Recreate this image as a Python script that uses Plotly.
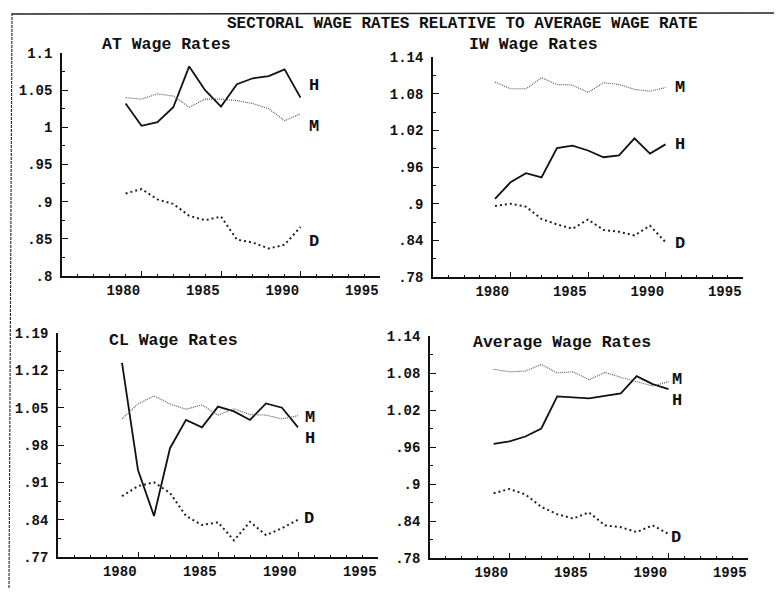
import plotly.graph_objects as go

# page body has an 8px default margin on every side; keep the figure inside the window
OFF = 8
W, H = 782 - 2 * OFF, 596 - 2 * OFF


def fx(px):
    return (px - OFF) / W


def fy(py):
    return 1 - (py - OFF) / H


years = list(range(1979, 1991))

at_h = [1.032, 1.002, 1.007, 1.027, 1.082, 1.050, 1.028, 1.058, 1.066, 1.069, 1.078, 1.040]
at_m = [1.040, 1.038, 1.045, 1.042, 1.027, 1.038, 1.038, 1.036, 1.032, 1.025, 1.009, 1.018]
at_d = [0.911, 0.917, 0.903, 0.897, 0.881, 0.875, 0.880, 0.849, 0.845, 0.837, 0.842, 0.866]

iw_h = [0.908, 0.935, 0.950, 0.943, 0.991, 0.995, 0.987, 0.976, 0.979, 1.007, 0.982, 0.997]
iw_m = [1.099, 1.088, 1.088, 1.106, 1.095, 1.094, 1.082, 1.098, 1.095, 1.087, 1.084, 1.090]
iw_d = [0.896, 0.900, 0.895, 0.875, 0.866, 0.859, 0.874, 0.857, 0.854, 0.848, 0.864, 0.837]

cl_h = [1.134, 0.933, 0.847, 0.974, 1.027, 1.013, 1.052, 1.043, 1.027, 1.058, 1.050, 1.013]
cl_m = [1.029, 1.057, 1.072, 1.057, 1.047, 1.055, 1.036, 1.048, 1.037, 1.036, 1.029, 1.035]
cl_d = [0.884, 0.903, 0.910, 0.890, 0.847, 0.830, 0.835, 0.801, 0.836, 0.811, 0.824, 0.840]

avg_h = [0.965, 0.969, 0.977, 0.990, 1.042, 1.041, 1.039, 1.043, 1.047, 1.075, 1.062, 1.054]
avg_m = [1.086, 1.082, 1.083, 1.094, 1.080, 1.082, 1.069, 1.081, 1.073, 1.066, 1.059, 1.066]
avg_d = [0.885, 0.892, 0.883, 0.863, 0.851, 0.844, 0.854, 0.833, 0.830, 0.822, 0.833, 0.819]

at_ticks = [1.1, 1.05, 1.0, 0.95, 0.9, 0.85, 0.8]
at_ticktext = ["1.1", "1.05", "1", ".95", ".9", ".85", ".8"]
iw_ticks = [1.14, 1.08, 1.02, 0.96, 0.9, 0.84, 0.78]
iw_ticktext = ["1.14", "1.08", "1.02", ".96", ".9", ".84", ".78"]
cl_ticks = [1.19, 1.12, 1.05, 0.98, 0.91, 0.84, 0.77]
cl_ticktext = ["1.19", "1.12", "1.05", ".98", ".91", ".84", ".77"]

x_ticks = [1980, 1985, 1990, 1995]
x_ticktext = ["1980", "1985", "1990", "1995"]

main_title = "SECTORAL WAGE RATES RELATIVE TO AVERAGE WAGE RATE"
panel_titles = ["AT Wage Rates", "IW Wage Rates", "CL Wage Rates", "Average Wage Rates"]
series_names = ["H", "M", "D"]

FONT = "Liberation Mono"

# panel pixel boxes in page pixels: (x0, x1, ytop, ybottom)
boxes = [(62, 380, 53, 276), (433, 743, 57, 277), (58, 378, 333, 557), (430, 748, 336, 558)]
panels = [
    ([at_h, at_m, at_d], at_ticks, at_ticktext, (0.8, 1.1), [(13, 12), (13, -13), (13, -15)], (166, 45)),
    ([iw_h, iw_m, iw_d], iw_ticks, iw_ticktext, (0.78, 1.14), [(14, 0), (14, 0), (14, -1)], (533, 45)),
    ([cl_h, cl_m, cl_d], cl_ticks, cl_ticktext, (0.77, 1.19), [(12, -11), (12, -2), (11, 1)], (173, 340)),
    ([avg_h, avg_m, avg_d], iw_ticks, iw_ticktext, (0.78, 1.14), [(8, -11), (8, 2), (7, -4)], (562, 342)),
]

styles = [
    dict(color="#111111", width=1.8, dash="solid"),
    dict(color="#555555", width=1.1, dash="1px,1px"),
    dict(color="#222222", width=2.0, dash="2px,3px"),
]

fig = go.Figure()
annotations = []
layout_axes = {}

for i, (series, yt, ytt, yr, shifts, tpos) in enumerate(panels):
    n = "" if i == 0 else str(i + 1)
    x0, x1, yt0, yb0 = boxes[i]
    xa = "x" + n
    ya = "y" + n
    for s, name, st, (xs, ys) in zip(series, series_names, styles, shifts):
        fig.add_trace(go.Scatter(x=years, y=s, mode="lines", line=st, xaxis=xa, yaxis=ya,
                                 showlegend=False, hoverinfo="skip"))
        annotations.append(dict(x=years[-1], y=s[-1], xref=xa, yref=ya, text="<b>" + name + "</b>",
                                showarrow=False, xshift=xs, yshift=ys, xanchor="center", yanchor="middle",
                                font=dict(family=FONT, size=17, color="#111")))
    layout_axes["xaxis" + n] = dict(
        domain=[fx(x0), fx(x1)], anchor=ya, range=[1975, 1995], automargin=False,
        tickvals=x_ticks, ticktext=["<b>" + t + "</b>" for t in x_ticktext],
        ticks="inside", ticklen=5, tickwidth=1.3,
        tickcolor="#111", ticklabelposition="outside left",
        minor=dict(ticks="inside", ticklen=2, dtick=1, tick0=1975, tickcolor="#111", tickwidth=1.2),
        showline=True, linecolor="#111", linewidth=1.6, showgrid=False, zeroline=False,
        tickfont=dict(family=FONT, size=14, color="#111"), fixedrange=True,
    )
    layout_axes["yaxis" + n] = dict(
        domain=[fy(yb0), fy(yt0)], anchor=xa, range=list(yr), automargin=False,
        tickvals=yt, ticktext=["<b>" + t + "</b>" for t in ytt],
        ticks="inside", ticklen=6, tickwidth=1.3, tickcolor="#111",
        minor=dict(ticks="inside", ticklen=3, tickvals=[(a + b) / 2 for a, b in zip(yt[:-1], yt[1:])],
                   tickcolor="#111", tickwidth=1.2),
        showline=True, linecolor="#111", linewidth=1.6, showgrid=False, zeroline=False,
        tickfont=dict(family=FONT, size=14, color="#111"), ticklabelstandoff=5, fixedrange=True,
    )
    annotations.append(dict(x=fx(tpos[0]), y=fy(tpos[1]), xref="paper", yref="paper",
                            text="<b>" + panel_titles[i] + "</b>", showarrow=False,
                            xanchor="center", yanchor="middle",
                            font=dict(family=FONT, size=16.5, color="#111")))

annotations.append(dict(x=fx(462), y=fy(24), xref="paper", yref="paper",
                        text="<b>" + main_title + "</b>", showarrow=False,
                        xanchor="center", yanchor="middle",
                        font=dict(family=FONT, size=16, color="#111")))

shapes = [
    dict(type="line", xref="paper", yref="paper", x0=fx(12), x1=1, y0=fy(14), y1=fy(13),
         line=dict(color="#222", width=1.5)),
    dict(type="line", xref="paper", yref="paper", x0=fx(12), x1=fx(9), y0=fy(13), y1=0,
         line=dict(color="#333", width=1.2, dash="3px,1px")),
]

fig.update_layout(
    width=W, height=H, margin=dict(l=0, r=0, t=0, b=0),
    paper_bgcolor="white", plot_bgcolor="white",
    annotations=annotations, shapes=shapes, **layout_axes,
)

fig.write_html("out.html")
